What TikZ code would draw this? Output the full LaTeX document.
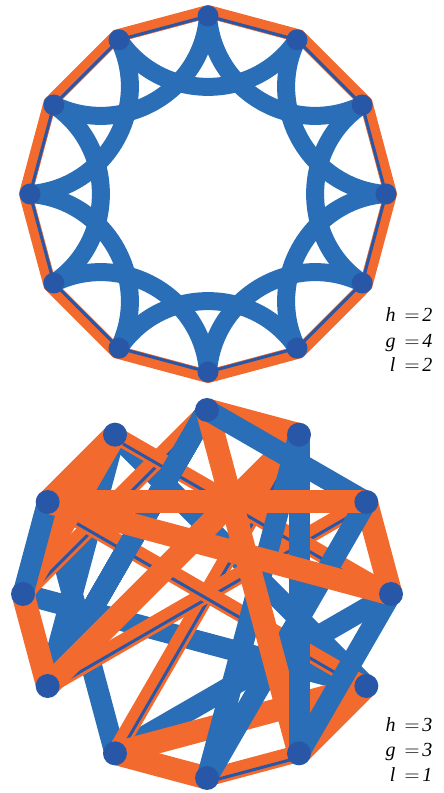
\documentclass[tikz,border=0pt]{standalone}
\usepackage{fontspec}
\setmainfont{Liberation Serif}
\usetikzlibrary{calc}
\definecolor{edgeorange}{RGB}{242,106,46}
\definecolor{edgeblue}{RGB}{41,110,182}
\definecolor{dotblue}{RGB}{41,87,167}
\pgfdeclarelayer{edges}
\pgfsetlayers{edges,main}

% orange edge with its thin blue twin (bottom graph)
\newcommand{\twinedge}[2]{%
  \draw[toline] (b#1.center) -- (b#2.center);
  \draw[thinline] ($(b#1.center)!4pt!90:(b#2.center)$) -- ($(b#2.center)!4pt!-90:(b#1.center)$);}

\begin{document}
\begin{tikzpicture}[x=1pt,y=1pt,
  dot/.style={circle,fill=dotblue,inner sep=0pt,minimum size=21pt},
  bigdot/.style={dot,minimum size=24pt},
  ring/.style={draw=edgeorange,line width=13pt,line join=miter},
  thinline/.style={draw=dotblue,line width=3pt},
  arcline/.style={draw=edgeblue,line width=18pt},
  bline/.style={draw=edgeblue,line width=21pt},
  oline/.style={draw=edgeorange,line width=23pt},
  toline/.style={draw=edgeorange,line width=17pt},
  val/.style={anchor=base east,font=\itshape\fontsize{20}{20}\selectfont}]

\useasboundingbox (0,0) rectangle (444,793);

% Haut
\coordinate (tc) at (208,599);
\foreach \k in {0,...,11}
  \node[dot] (t\k) at ($(tc)+({90-30*\k}:178)$) {};

\begin{pgfonlayer}{edges}
\draw[ring] ($(tc)!1.025!(t0.center)$) \foreach \k in {1,...,11}{ -- ($(tc)!1.025!(t\k.center)$)} -- cycle;
\draw[thinline] (t0.center) \foreach \k in {1,...,11}{ -- (t\k.center)} -- cycle;
\foreach \k in {0,...,11}{
  \pgfmathtruncatemacro\j{mod(\k+2,12)}
  \draw[arcline] (t\k.center) to[bend right=56,looseness=1.09] (t\j.center);
}
\end{pgfonlayer}

\node[val] (h1) at (436,471) {h\hspace{9pt}$=$\hspace{3pt}2};
\node[val] (g1) at (436,445) {g\hspace{9pt}$=$\hspace{3pt}4};
\node[val] (l1) at (436,421) {l\hspace{9pt}$=$\hspace{3pt}2};

% Bas
\coordinate (bc) at (207,199);
\foreach \k in {0,...,11}
  \node[bigdot] (b\k) at ($(bc)+({90-30*\k}:184)$) {};

\begin{pgfonlayer}{edges}
\foreach \a/\b in {4/11,9/4,3/7,11/8,10/7}
  \draw[bline] (b\a.center) -- (b\b.center);
\foreach \a/\b in {0/9,1/7,2/8,3/11,4/10,5/6}
  \twinedge{\a}{\b}
\draw[bline] (b8.center) -- (b0.center);
\foreach \a/\b in {0/1,1/8,4/5,4/7,6/7,8/9,9/11,10/11,2/3}
  \draw[oline] (b\a.center) -- (b\b.center);
\foreach \a/\b in {2/6,6/1}
  \draw[bline] (b\a.center) -- (b\b.center);
\draw[oline] (b0.center) -- (b5.center);
\foreach \a/\b in {1/5,5/3,0/2,10/9}
  \draw[bline] (b\a.center) -- (b\b.center);
\foreach \a/\b in {10/2,10/3}
  \draw[oline] (b\a.center) -- (b\b.center);
\end{pgfonlayer}

\node[val] (h2) at (436,61) {h\hspace{9pt}$=$\hspace{3pt}3};
\node[val] (g2) at (436,36) {g\hspace{9pt}$=$\hspace{3pt}3};
\node[val] (l2) at (436,11) {l\hspace{9pt}$=$\hspace{3pt}1};

\end{tikzpicture}
\end{document}
